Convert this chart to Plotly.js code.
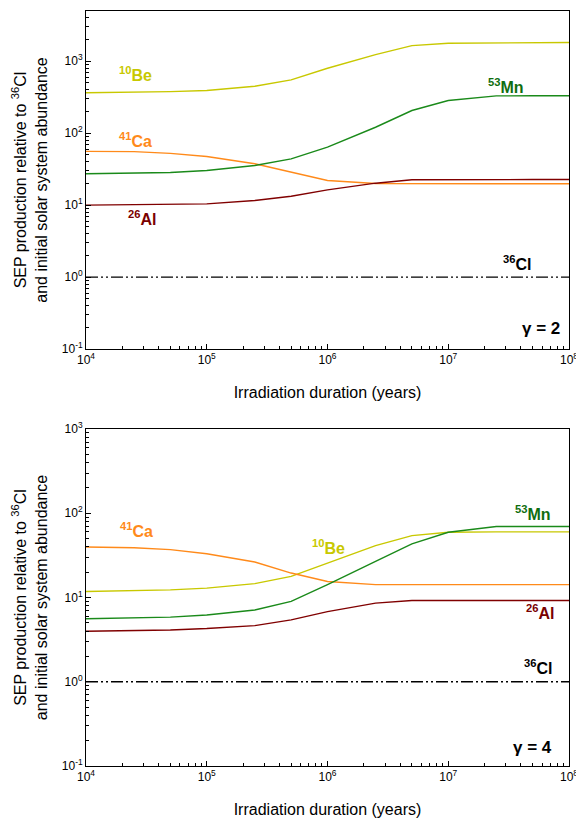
<!DOCTYPE html>
<html>
<head>
<meta charset="utf-8">
<script src="https://cdn.plot.ly/plotly-3.0.1.min.js"></script>
<style>html,body{margin:0;padding:0;background:#fff;}#chart{width:576px;height:819px;}</style>
</head>
<body>
<div id="chart"></div>
<script>
// Irradiation duration (years)
const years = [1e4, 2.5e4, 5e4, 1e5, 2.5e5, 5e5, 1e6, 2.5e6, 5e6, 1e7, 2.5e7, 5e7, 1e8];

// gamma = 2 (top panel)
const be10_g2 = [365, 370, 378, 392, 450, 552, 800, 1240, 1650, 1780, 1810, 1820, 1820];
const mn53_g2 = [27.3, 27.6, 28.5, 30.3, 35.6, 44, 64, 121, 207, 285, 330, 332, 332];
const ca41_g2 = [56, 55.5, 52.5, 47.5, 37.6, 28.7, 22, 20, 19.8, 19.8, 19.8, 19.8, 19.8];
const al26_g2 = [10, 10.1, 10.2, 10.4, 11.6, 13.3, 16.3, 20.2, 22.5, 22.7, 22.7, 22.7, 22.7];
const cl36_g2 = [1, 1, 1, 1, 1, 1, 1, 1, 1, 1, 1, 1, 1];

// gamma = 4 (bottom panel)
const be10_g4 = [11.8, 12, 12.3, 12.9, 14.6, 17.8, 25.7, 41.2, 54.3, 59.4, 60, 60, 60];
const mn53_g4 = [5.6, 5.7, 5.85, 6.2, 7.1, 9.0, 14.2, 26.8, 43.2, 59.4, 69.5, 69.5, 69.5];
const ca41_g4 = [39.8, 39, 37, 33.1, 26.4, 19.5, 15.5, 14.2, 14.2, 14.2, 14.2, 14.2, 14.2];
const al26_g4 = [3.98, 4.05, 4.12, 4.28, 4.64, 5.43, 6.8, 8.57, 9.2, 9.2, 9.2, 9.2, 9.2];
const cl36_g4 = [1, 1, 1, 1, 1, 1, 1, 1, 1, 1, 1, 1, 1];

// tick labels
const xTickVals = [1e4, 1e5, 1e6, 1e7, 1e8];
const xTickText = ['10<sup>4</sup>', '10<sup>5</sup>', '10<sup>6</sup>', '10<sup>7</sup>', '10<sup>8</sup>'];
const yTickVals = [0.1, 1, 10, 100, 1000];
const yTickText = ['10<sup>-1</sup>', '10<sup>0</sup>', '10<sup>1</sup>', '10<sup>2</sup>', '10<sup>3</sup>'];

const cBe = '#c8c800', cCa = '#ff8a1a', cMn = '#1a8a1a', cAl = '#800000';

function minorVals(lo, hi) {
  const v = [];
  for (let e = lo; e < hi; e++) for (let m = 2; m <= 9; m++) v.push(m * Math.pow(10, e));
  return v;
}

function tr(y, color, xa, ya, dash) {
  return {x: years, y: y, type: 'scatter', mode: 'lines', xaxis: xa, yaxis: ya,
          line: {color: color, width: 1.4, dash: dash || 'solid'}, showlegend: false, hoverinfo: 'skip'};
}

const clDash = '12px,3px,2px,3px,2px,3px';
const data = [
  tr(be10_g2, cBe, 'x', 'y'), tr(ca41_g2, cCa, 'x', 'y'), tr(mn53_g2, cMn, 'x', 'y'),
  tr(al26_g2, cAl, 'x', 'y'), tr(cl36_g2, '#000', 'x', 'y', clDash),
  tr(be10_g4, cBe, 'x2', 'y2'), tr(ca41_g4, cCa, 'x2', 'y2'), tr(mn53_g4, cMn, 'x2', 'y2'),
  tr(al26_g4, cAl, 'x2', 'y2'), tr(cl36_g4, '#000', 'x2', 'y2', clDash)
];

const font = {family: 'Liberation Sans, Arial, sans-serif', color: '#000'};
const tickFont = {family: font.family, size: 12, color: '#000'};

function xAxis(anchor) {
  return {type: 'log', range: [4, 8], anchor: anchor, showgrid: false, zeroline: false,
    showline: true, mirror: true, linecolor: '#000', linewidth: 1,
    ticks: 'inside', ticklen: 5, tickcolor: '#000', tickmode: 'array',
    tickvals: xTickVals, ticktext: xTickText, tickfont: tickFont, ticklabeloverflow: 'allow',
    minor: {ticks: 'inside', ticklen: 3, tickcolor: '#000', tickmode: 'array', tickvals: minorVals(4, 8), showgrid: false},
    title: {text: 'Irradiation duration (years)', font: {family: font.family, size: 16, color: '#000'}, standoff: 20},
    automargin: false};
}
function yAxis(anchor, range, domain, minorHi) {
  return {type: 'log', range: range, domain: domain, anchor: anchor, showgrid: false, zeroline: false,
    showline: true, mirror: true, linecolor: '#000', linewidth: 1,
    ticks: 'inside', ticklen: 5, tickcolor: '#000', tickmode: 'array',
    tickvals: yTickVals, ticktext: yTickText, tickfont: tickFont, ticklabeloverflow: 'allow',
    minor: {ticks: 'inside', ticklen: 3, tickcolor: '#000', tickmode: 'array', tickvals: minorVals(-1, minorHi), showgrid: false},
    title: {text: 'SEP production relative to <sup>36</sup>Cl<br>and initial solar system abundance',
            font: {family: font.family, size: 16, color: '#000'}, standoff: 10},
    automargin: false};
}

function lab(text, x, y, color, xr, yr, size) {
  return {text: '<b>' + text + '</b>', x: x, y: y, xref: xr, yref: yr, showarrow: false,
          font: {family: font.family, size: size || 16, color: color}, xanchor: 'center', yanchor: 'middle'};
}

const annotations = [
  lab('<sup>10</sup>Be', 4.41, 2.83, cBe, 'x', 'y'),
  lab('<sup>41</sup>Ca', 4.41, 1.90, cCa, 'x', 'y'),
  lab('<sup>26</sup>Al', 4.46, 0.815, '#7a0000', 'x', 'y'),
  lab('<sup>53</sup>Mn', 7.48, 2.66, '#0f6e0f', 'x', 'y'),
  lab('<sup>36</sup>Cl', 7.57, 0.19, '#000', 'x', 'y'),
  lab('γ = 2', 7.77, -0.71, '#000', 'x', 'y', 17),
  lab('<sup>41</sup>Ca', 4.42, 1.806, cCa, 'x2', 'y2'),
  lab('<sup>10</sup>Be', 6.01, 1.60, cBe, 'x2', 'y2'),
  lab('<sup>53</sup>Mn', 7.70, 2.0, '#0f6e0f', 'x2', 'y2'),
  lab('<sup>26</sup>Al', 7.76, 0.83, '#7a0000', 'x2', 'y2'),
  lab('<sup>36</sup>Cl', 7.74, 0.175, '#000', 'x2', 'y2'),
  lab('γ = 4', 7.70, -0.78, '#000', 'x2', 'y2', 17)
];

const layout = {
  width: 576, height: 819,
  margin: {l: 86, r: 7, t: 11, b: 53},
  paper_bgcolor: '#fff', plot_bgcolor: '#fff',
  font: font,
  xaxis: xAxis('y'),
  yaxis: yAxis('x', [-1, 3.699], [0.5523, 1], 4),
  xaxis2: xAxis('y2'),
  yaxis2: yAxis('x2', [-1, 3], [0, 0.4464], 3),
  annotations: annotations,
  showlegend: false
};

Plotly.newPlot('chart', data, layout, {displayModeBar: false, staticPlot: true});
</script>
</body>
</html>
